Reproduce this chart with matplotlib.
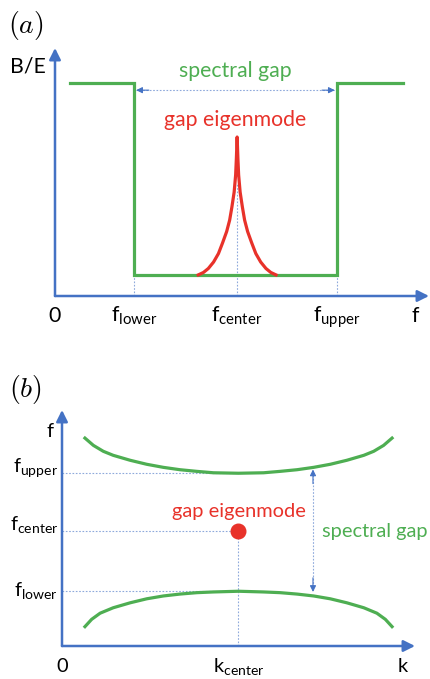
import matplotlib
matplotlib.use("Agg")
import matplotlib.pyplot as plt

plt.rcParams["font.family"] = ["Lato", "DejaVu Sans"]
plt.rcParams["mathtext.fontset"] = "custom"
plt.rcParams["mathtext.rm"] = "Lato"
plt.rcParams["mathtext.it"] = "Lato:italic"

BLUE = "#4472C4"
DOT = "#8EA9DB"
GREEN = "#4EAE52"
RED = "#E8322A"

# ---- panel (a): field spectrum B/E versus frequency ----
f_lower, f_center, f_upper = 0.211, 0.487, 0.754
step_f = [0.04, f_lower, f_lower, f_upper, f_upper, 0.93]
step_amp = [0.859, 0.859, 0.085, 0.085, 0.859, 0.859]
peak_f = [0.383, 0.397, 0.410, 0.424, 0.437, 0.448, 0.459, 0.467, 0.473,
          0.479, 0.483, 0.485, 0.487,
          0.489, 0.491, 0.495, 0.501, 0.507, 0.515, 0.526, 0.537, 0.550,
          0.564, 0.577, 0.591]
peak_amp = [0.085, 0.095, 0.111, 0.137, 0.171, 0.214, 0.260, 0.306, 0.359,
            0.419, 0.488, 0.556, 0.641,
            0.556, 0.488, 0.419, 0.359, 0.306, 0.260, 0.214, 0.171, 0.137,
            0.111, 0.095, 0.085]
gap_arrow_amp_a = 0.83
center_guide_top = 0.456
a_ticks = [0.0, f_lower, f_center, f_upper, 0.963]
a_ticklabels = ["0", r"$\mathrm{f}_{\mathrm{lower}}$", r"$\mathrm{f}_{\mathrm{center}}$",
                r"$\mathrm{f}_{\mathrm{upper}}$", "f"]

# ---- panel (b): dispersion f(k) with two bands ----
k_upper = [0.065, 0.089, 0.117, 0.145, 0.193, 0.240, 0.287, 0.334, 0.382, 0.429, 0.5,
           0.571, 0.618, 0.666, 0.713, 0.760, 0.807, 0.855, 0.883, 0.911, 0.935]
upper_band = [0.881, 0.850, 0.825, 0.808, 0.787, 0.770, 0.757, 0.747, 0.740, 0.734, 0.732,
              0.734, 0.740, 0.747, 0.757, 0.770, 0.787, 0.808, 0.825, 0.850, 0.881]
k_lower = [0.065, 0.084, 0.108, 0.145, 0.193, 0.240, 0.287, 0.334, 0.382, 0.429, 0.5,
           0.571, 0.618, 0.666, 0.713, 0.760, 0.807, 0.855, 0.892, 0.916, 0.935]
lower_band = [0.082, 0.113, 0.139, 0.162, 0.183, 0.200, 0.212, 0.220, 0.226, 0.229, 0.232,
              0.229, 0.226, 0.220, 0.212, 0.200, 0.183, 0.162, 0.139, 0.113, 0.082]
k_center = 0.5
fb_upper, fb_center, fb_lower = 0.732, 0.487, 0.232
gap_arrow_k = 0.711
gap_arrow_top, gap_arrow_bottom = 0.748, 0.229
b_yticklabels = [r"$\mathrm{f}_{\mathrm{upper}}$", r"$\mathrm{f}_{\mathrm{center}}$",
                 r"$\mathrm{f}_{\mathrm{lower}}$"]
b_ylabel_y = [0.737, 0.492, 0.212]

W, H = 431, 679
fig = plt.figure(figsize=(W / 100, H / 100), dpi=100)


def px_axes(x0, y0, x1, y1):
    """Axes whose origin is at pixel (x0, y0) and far corner at (x1, y1)."""
    ax = fig.add_axes([x0 / W, 1 - y0 / H, (x1 - x0) / W, (y0 - y1) / H])
    ax.set_xlim(0, 1)
    ax.set_ylim(0, 1)
    ax.axis("off")
    return ax


def axis_arrows(ax):
    kw = dict(arrowstyle="-|>", color=BLUE, lw=1.8, mutation_scale=17,
              shrinkA=0, shrinkB=0)
    ax.annotate("", xy=(1, 0), xytext=(0, 0), arrowprops=kw, annotation_clip=False)
    ax.annotate("", xy=(0, 1), xytext=(0, 0), arrowprops=kw, annotation_clip=False)


def head(ax, tip, frm):
    ax.annotate("", xy=tip, xytext=frm, annotation_clip=False,
                arrowprops=dict(arrowstyle="-|>", color=BLUE, lw=0.8,
                                mutation_scale=9, shrinkA=0, shrinkB=0))


dot_kw = dict(color=DOT, lw=0.8, ls=(0, (1.5, 1.5)))
FS_A, FS_B = 15.3, 14.4

# panel (a)
ax = px_axes(55, 296, 429, 48)
for fv in (f_lower, f_upper):
    ax.plot([fv, fv], [0, 0.085], **dot_kw)
ax.plot([f_center, f_center], [0, center_guide_top], **dot_kw)
ax.plot([f_lower + 0.006, f_upper - 0.006], [gap_arrow_amp_a] * 2, **dot_kw)
head(ax, (f_lower + 0.006, gap_arrow_amp_a), (f_lower + 0.04, gap_arrow_amp_a))
head(ax, (f_upper - 0.006, gap_arrow_amp_a), (f_upper - 0.04, gap_arrow_amp_a))
ax.plot(step_f, step_amp, color=GREEN, lw=2.3, solid_joinstyle="miter", zorder=3)
ax.plot(peak_f, peak_amp, color=RED, lw=2.3, zorder=4)
axis_arrows(ax)
for xv, lab in zip(a_ticks, a_ticklabels):
    ax.text(xv, -0.105, lab, ha="center", va="baseline", fontsize=FS_A)
ax.text(-0.072, 0.903, "B/E", ha="center", va="baseline", fontsize=FS_A)
ax.text(0.481, 0.883, "spectral gap", ha="center", va="baseline",
        fontsize=FS_A, color=GREEN)
ax.text(0.481, 0.687, "gap eigenmode", ha="center", va="baseline",
        fontsize=FS_A, color=RED)
fig.text(26 / W, 1 - 25 / H, r"$(a)$", ha="center", va="center",
         fontsize=20, math_fontfamily="cm")

# panel (b)
bx = px_axes(62, 646, 415, 410)
for fv in (fb_upper, fb_center, fb_lower):
    bx.plot([0, k_center], [fv, fv], **dot_kw)
bx.plot([k_center, k_center], [0, fb_center], **dot_kw)
bx.plot([gap_arrow_k] * 2, [gap_arrow_bottom + 0.01, gap_arrow_top - 0.01], **dot_kw)
head(bx, (gap_arrow_k, gap_arrow_top), (gap_arrow_k, gap_arrow_top - 0.06))
head(bx, (gap_arrow_k, gap_arrow_bottom), (gap_arrow_k, gap_arrow_bottom + 0.06))
bx.plot(k_upper, upper_band, color=GREEN, lw=2.3, zorder=3)
bx.plot(k_lower, lower_band, color=GREEN, lw=2.3, zorder=3)
bx.plot([k_center], [fb_center], "o", color=RED, ms=10.5, zorder=5)
axis_arrows(bx)
for yv, lab in zip(b_ylabel_y, b_yticklabels):
    bx.text(-0.011, yv, lab, ha="right", va="baseline", fontsize=FS_B)
bx.text(-0.034, 0.886, "f", ha="center", va="baseline", fontsize=FS_B)
bx.text(0.0, -0.110, "0", ha="center", va="baseline", fontsize=FS_B)
bx.text(k_center, -0.110, r"$\mathrm{k}_{\mathrm{center}}$", ha="center",
        va="baseline", fontsize=FS_B)
bx.text(0.966, -0.110, "k", ha="center", va="baseline", fontsize=FS_B)
bx.text(0.5, 0.547, "gap eigenmode", ha="center", va="baseline",
        fontsize=FS_B, color=RED)
bx.text(0.887, 0.462, "spectral gap", ha="center", va="baseline",
        fontsize=FS_B, color=GREEN)
fig.text(25 / W, 1 - 389 / H, r"$(b)$", ha="center", va="center",
         fontsize=20, math_fontfamily="cm")

fig.savefig("out.png", dpi=100, facecolor="white")
